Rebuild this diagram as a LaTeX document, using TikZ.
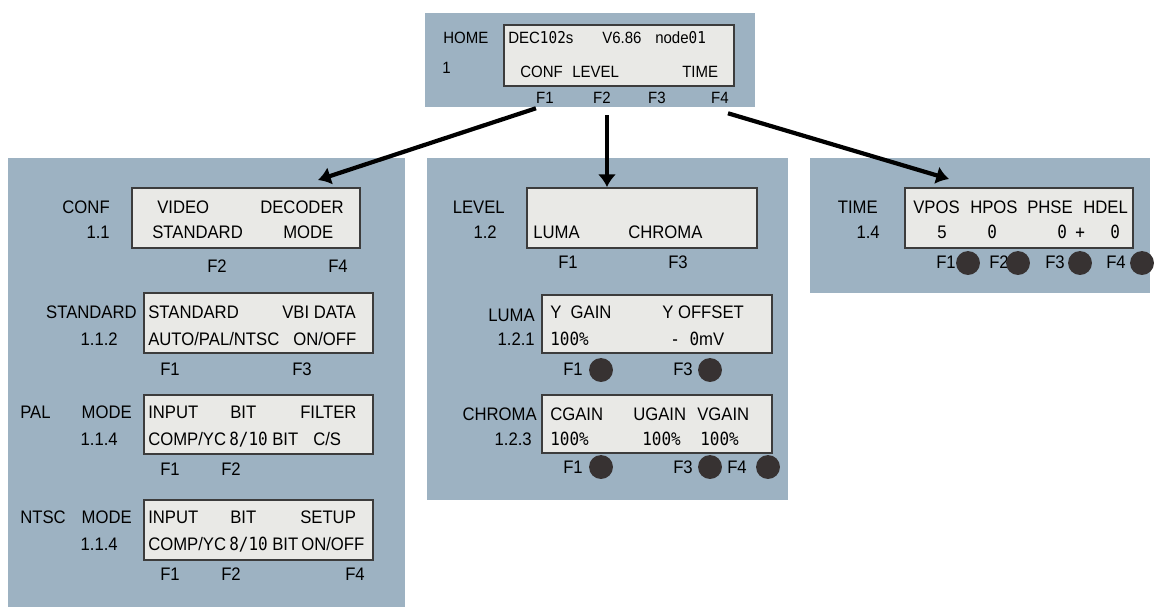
\documentclass[tikz,border=0pt]{standalone}
\usepackage{fontspec}
\setmainfont{Liberation Sans}[FakeStretch=0.92]
\newfontfamily\lcdfont{DejaVu Sans Mono}[FakeStretch=0.88]
\newcommand{\lcdnum}[1]{{\lcdfont #1}}
\usetikzlibrary{positioning,fit,calc,arrows.meta}
\definecolor{panelbg}{RGB}{157,178,194}
\definecolor{lcdbg}{RGB}{233,233,230}
\definecolor{lcdedge}{RGB}{60,60,60}
\definecolor{knob}{RGB}{55,50,50}

\begin{document}
\begin{tikzpicture}[
    x=0.025cm, y=-0.025cm,
    panel/.style={fill=panelbg},
    lcd/.style={draw=lcdedge, line width=1.4pt, fill=lcdbg, inner sep=0pt},
    txt/.style={inner sep=0pt, anchor=base west, font=\fontsize{12.9}{15}\selectfont},
    lbl/.style={txt, anchor=base east},
    fkey/.style={txt, anchor=base},
    hometxt/.style={txt, font=\fontsize{11.6}{13}\selectfont},
    btn/.style={circle, fill=knob, minimum size=17pt, inner sep=0pt},
    arr/.style={line width=3pt, -{Latex[length=9pt,width=13pt]}},
    ]
    \useasboundingbox (0,0) rectangle (1160,607);

    % menu panels
    \fill[panel] (425,13) rectangle (755,107);
    \fill[panel] (8,158) rectangle (405,607);
    \fill[panel] (427,158) rectangle (788,500);
    \fill[panel] (810,158) rectangle (1150,293);

    % home menu
    \node[hometxt] (homename) at (443,43) {HOME};
    \node[hometxt] (homeno) at (442,73) {1};
    \node[lcd, fit={(504,25) (734,86)}] (homelcd) {};
    \node[hometxt] (hdec) at (508,43) {DEC\lcdnum{102}s};
    \node[hometxt] (hver) at (602,43) {V6.86};
    \node[hometxt] (hnode) at (655,43) {node\lcdnum{01}};
    \node[hometxt] (hconf) at (520,77) {CONF};
    \node[hometxt] (hlevel) at (572,77) {LEVEL};
    \node[hometxt] (htime) at (682,77) {TIME};
    \node[hometxt, anchor=base] (hf1) at (545,103) {F1};
    \node[hometxt, anchor=base] (hf2) at (602,103) {F2};
    \node[hometxt, anchor=base] (hf3) at (657,103) {F3};
    \node[hometxt, anchor=base] (hf4) at (720,103) {F4};

    % conf 1.1
    \node[lbl] (confname) at (110,213) {CONF};
    \node[lbl] (confno) at (110,238) {1.1};
    \node[lcd, fit={(132,188) (360,248)}] (conflcd) {};
    \node[txt] (cvideo) at (157,213) {VIDEO};
    \node[txt] (cdecoder) at (260,213) {DECODER};
    \node[txt] (cstandard) at (152,238) {STANDARD};
    \node[txt] (cmode) at (283,238) {MODE};
    \node[fkey] (cf2) at (217,272) {F2};
    \node[fkey] (cf4) at (338,272) {F4};

    % standard 1.1.2
    \node[lbl] (stdname) at (137,318) {STANDARD};
    \node[lbl] (stdno) at (118,345) {1.1.2};
    \node[lcd, fit={(144,293) (373,353)}] (stdlcd) {};
    \node[txt] (sstd) at (148,318) {STANDARD};
    \node[txt] (svbi) at (282,318) {VBI DATA};
    \node[txt] (sauto) at (148,345) {AUTO/PAL/NTSC};
    \node[txt] (sonoff) at (293,345) {ON/OFF};
    \node[fkey] (sf1) at (170,375) {F1};
    \node[fkey] (sf3) at (302,375) {F3};

    % pal mode 1.1.4
    \node[txt] (palname) at (20,418) {PAL};
    \node[lbl] (palmode) at (132,418) {MODE};
    \node[lbl] (palno) at (118,445) {1.1.4};
    \node[lcd, fit={(144,395) (373,454)}] (pallcd) {};
    \node[txt] (pinput) at (148,418) {INPUT};
    \node[txt] (pbit) at (230,418) {BIT};
    \node[txt] (pfilter) at (300,418) {FILTER};
    \node[txt] (pcomp) at (148,445) {COMP/YC};
    \node[txt] (pbits) at (229,445) {\lcdnum{8/10} BIT};
    \node[txt] (pcs) at (313,445) {C/S};
    \node[fkey] (pf1) at (170,475) {F1};
    \node[fkey] (pf2) at (231,475) {F2};

    % ntsc mode 1.1.4
    \node[txt] (ntscname) at (20,523) {NTSC};
    \node[lbl] (ntscmode) at (132,523) {MODE};
    \node[lbl] (ntscno) at (118,550) {1.1.4};
    \node[lcd, fit={(144,500) (373,560)}] (ntsclcd) {};
    \node[txt] (ninput) at (148,523) {INPUT};
    \node[txt] (nbit) at (230,523) {BIT};
    \node[txt] (nsetup) at (300,523) {SETUP};
    \node[txt] (ncomp) at (148,550) {COMP/YC};
    \node[txt] (nbits) at (229,550) {\lcdnum{8/10} BIT};
    \node[txt] (nonoff) at (301,550) {ON/OFF};
    \node[fkey] (nf1) at (170,580) {F1};
    \node[fkey] (nf2) at (231,580) {F2};
    \node[fkey] (nf4) at (355,580) {F4};

    % level 1.2
    \node[lbl] (levelname) at (505,213) {LEVEL};
    \node[lbl] (levelno) at (497,238) {1.2};
    \node[lcd, fit={(527,188) (757,248)}] (levellcd) {};
    \node[txt] (lluma) at (533,238) {LUMA};
    \node[txt] (lchroma) at (628,238) {CHROMA};
    \node[fkey] (lf1) at (568,268) {F1};
    \node[fkey] (lf3) at (678,268) {F3};

    % luma 1.2.1
    \node[lbl] (lumaname) at (535,321) {LUMA};
    \node[lbl] (lumano) at (535,345) {1.2.1};
    \node[lcd, fit={(542,295) (772,353)}] (lumalcd) {};
    \node[txt] (ygain) at (550,318) {Y~~GAIN};
    \node[txt] (yoffset) at (662,318) {Y OFFSET};
    \node[txt] (ygainval) at (550,345) {\lcdnum{100\%}};
    \node[txt] (yoffval) at (670,345) {\lcdnum{- 0}mV};
    \node[fkey] (yf1) at (573,375) {F1};
    \node[btn] (yb1) at (601,370) {};
    \node[fkey] (yf3) at (683,375) {F3};
    \node[btn] (yb3) at (710,370) {};

    % chroma 1.2.3
    \node[lbl] (chromaname) at (537,420) {CHROMA};
    \node[lbl] (chromano) at (532,445) {1.2.3};
    \node[lcd, fit={(542,395) (772,453)}] (chromalcd) {};
    \node[txt] (cgain) at (550,420) {CGAIN};
    \node[txt] (ugain) at (633,420) {UGAIN};
    \node[txt] (vgain) at (697,420) {VGAIN};
    \node[txt] (cgainval) at (550,445) {\lcdnum{100\%}};
    \node[txt] (ugainval) at (642,445) {\lcdnum{100\%}};
    \node[txt] (vgainval) at (700,445) {\lcdnum{100\%}};
    \node[fkey] (chf1) at (573,473) {F1};
    \node[btn] (chb1) at (601,467) {};
    \node[fkey] (chf3) at (683,473) {F3};
    \node[btn] (chb3) at (710,467) {};
    \node[fkey] (chf4) at (737,473) {F4};
    \node[btn] (chb4) at (768,467) {};

    % time 1.4
    \node[lbl] (timename) at (878,213) {TIME};
    \node[lbl] (timeno) at (880,238) {1.4};
    \node[lcd, fit={(905,188) (1133,248)}] (timelcd) {};
    \node[txt] (vpos) at (913,213) {VPOS};
    \node[txt] (hpos) at (970,213) {HPOS};
    \node[txt] (phse) at (1027,213) {PHSE};
    \node[txt] (hdel) at (1083,213) {HDEL};
    \node[txt] (vposval) at (937,238) {5};
    \node[txt] (hposval) at (987,238) {\lcdnum{0}};
    \node[txt] (phseval) at (1057,238) {\lcdnum{0}};
    \node[txt] (phsesign) at (1075,238) {\lcdnum{+}};
    \node[txt] (hdelval) at (1110,238) {\lcdnum{0}};
    \node[fkey] (tf1) at (946,268) {F1};
    \node[btn] (tb1) at (968,263) {};
    \node[fkey] (tf2) at (999,268) {F2};
    \node[btn] (tb2) at (1018,263) {};
    \node[fkey] (tf3) at (1055,268) {F3};
    \node[btn] (tb3) at (1080,263) {};
    \node[fkey] (tf4) at (1116,268) {F4};
    \node[btn] (tb4) at (1142,263) {};

    % menu jumps
    \draw[arr] ($(hf1.south west)+(0,5)$) -- ($(conflcd.north east)+(-43,-7)$);
    \draw[arr] ($(hf2.south)+(5,12)$) coordinate (jump2) -- (jump2 |- levellcd.north);
    \draw[arr] ($(hf4.south)+(8,10)$) -- ($(timelcd.north west)+(45,-8)$);

\end{tikzpicture}
\end{document}
